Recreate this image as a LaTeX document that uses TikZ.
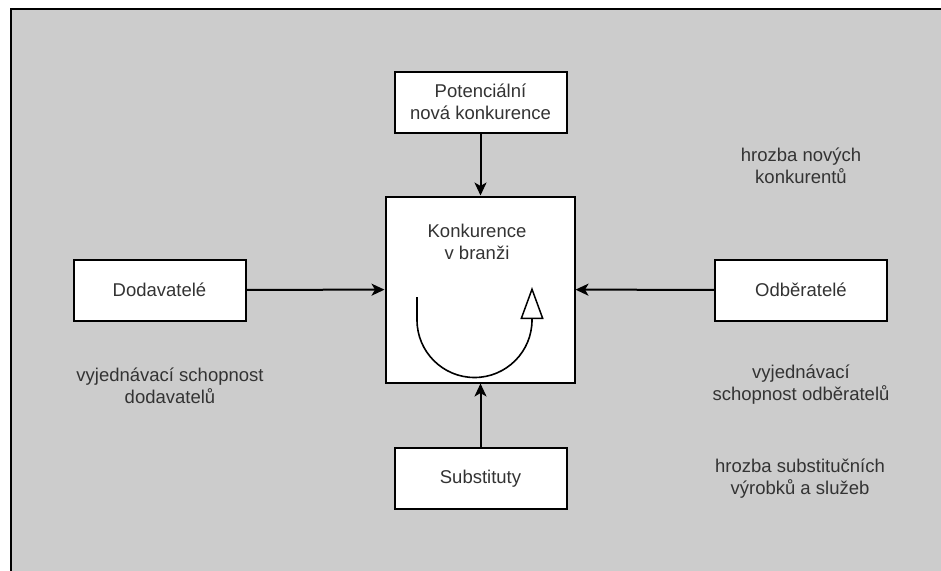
\documentclass[tikz,border=0pt]{standalone}
\usepackage{fontspec}
\setmainfont{Liberation Sans}
\usepackage{tikz}
\usepackage{xcolor}
\usetikzlibrary{arrows.meta,positioning}
\definecolor{SheetGray}{HTML}{CCCCCC}
\definecolor{LabelGray}{HTML}{333333}

\begin{document}
\begin{tikzpicture}[x=1pt, y=-1pt,
  force/.style={rectangle, draw=black, line width=2pt, fill=white, align=center,
                font=\fontsize{18.5}{22}\selectfont, text=LabelGray,
                minimum width=172pt, minimum height=61pt, inner sep=0pt},
  core/.style={rectangle, draw=black, line width=2pt, fill=white,
               minimum width=189pt, minimum height=186pt, inner sep=0pt},
  note/.style={align=center, font=\fontsize{18.5}{22}\selectfont, text=LabelGray,
               inner sep=0pt},
  arr/.style={-{Stealth[length=13pt, width=12pt, inset=3.5pt]}, line width=2pt, draw=black},
  cyc/.style={-{Triangle[open, length=32pt, width=23pt, line width=1.5pt]},
              line width=1.6pt, draw=black}
]
  \clip (0,0) rectangle (941,570);
  \fill[white] (0,0) rectangle (941,570);
  \draw[line width=2pt, fill=SheetGray] (10.5,8.5) rectangle (960,590);

  \node[core] (konk) at (480,289.5) {};
  \node[note, anchor=north] (konkt) at (477,224) {Konkurence\\v branži};

  \node[force] (pot) at (480.5,102) {Potenciální\\nová konkurence};
  \node[force] (dod) at (159.5,290) {Dodavatelé};
  \node[force] (odb) at (801,290) {Odběratelé};
  \node[force] (sub) at (480.5,478.5) {Substituty};

  \node[note] (hnk) at (801,166) {hrozba nových\\konkurentů};
  \node[note] (vsd) at (170,386) {vyjednávací schopnost\\dodavatelů};
  \node[note] (vso) at (801,385) {vyjednávací\\schopnost odběratelů};
  \node[note] (hsv) at (800,479) {hrozba substitučních\\výrobků a služeb};

  \draw[arr] (pot.south) -- (pot.south |- konk.north);
  \draw[arr] (dod) -- (konk);
  \draw[arr] (odb) -- (konk);
  \draw[arr] (sub.north) -- (sub.north |- konk.south);

  \draw[cyc] (417,297) -- (417,320) arc[start angle=180, end angle=0, radius=57.5]
             -- (532,287);
\end{tikzpicture}
\end{document}
